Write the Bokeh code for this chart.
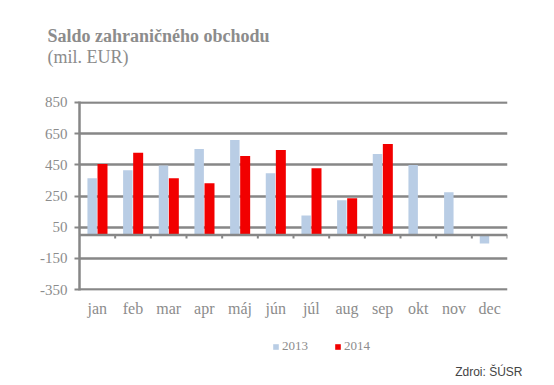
import numpy as np
from bokeh.plotting import figure
from bokeh.layouts import column
from bokeh.models import FixedTicker, Span, Label, Legend, LegendItem, Range1d, ColumnDataSource
from bokeh.embed import file_html
from bokeh.resources import INLINE

months = ["jan", "feb", "mar", "apr", "máj", "jún", "júl", "aug", "sep", "okt", "nov", "dec"]
v2013 = [364, 415, 446, 551, 609, 396, 125, 222, 519, 448, 274, -54]
v2014 = [456, 527, 364, 332, 506, 545, 428, 235, 583]
y_ticks = [-350, -150, 50, 250, 450, 650, 850]
series = ["2013", "2014"]

GRAY = "#878787"
TXT = "#8c8c8c"
C13 = "#b9cde5"
C14 = "#f20000"
SERIF = "Liberation Serif"
W = 545
H_TOP, H_MAIN, H_BOT = 75, 245, 56


def blank(h):
    f = figure(width=W, height=h, output_backend="svg", toolbar_location=None,
               x_range=Range1d(0, 1), y_range=Range1d(0, 1), x_axis_type=None, y_axis_type=None,
               min_border=0, min_border_left=0, min_border_right=0, min_border_top=0, min_border_bottom=0)
    f.outline_line_color = None
    f.grid.grid_line_color = None
    return f


# ---- title block
pt = blank(H_TOP)
pt.add_layout(Label(x=47, y=40, x_units="screen", y_units="screen", text="Saldo zahraničného obchodu",
                    text_font=SERIF, text_font_style="bold", text_font_size="18px", text_color=TXT,
                    text_baseline="alphabetic"))
pt.add_layout(Label(x=47, y=19, x_units="screen", y_units="screen", text="(mil. EUR)",
                    text_font=SERIF, text_font_size="18px", text_color=TXT, text_baseline="alphabetic"))

# ---- main chart
p = figure(width=W, height=H_MAIN, output_backend="svg", toolbar_location=None,
           x_range=Range1d(0, 12), y_range=Range1d(-356, 856),
           min_border_left=79, min_border_right=38, min_border_top=26, min_border_bottom=30)
p.outline_line_color = None

idx = np.arange(len(months)) + 0.5
s13 = ColumnDataSource(dict(x=idx - 0.145, top=v2013))
s14 = ColumnDataSource(dict(x=idx[:len(v2014)] + 0.145, top=v2014))
p.vbar(x="x", top="top", bottom=0, width=0.265, source=s13, fill_color=C13, line_color=None)
p.vbar(x="x", top="top", bottom=0, width=0.28, source=s14, fill_color=C14, line_color=None)

p.add_layout(Span(location=0, dimension="width", line_color=GRAY, line_width=2.5))
bounds = np.arange(1, len(months) + 1)
p.segment(x0=bounds, x1=bounds, y0=np.zeros(len(bounds)), y1=np.full(len(bounds), -22.0),
          line_color=GRAY, line_width=2)

p.yaxis.ticker = FixedTicker(ticks=y_ticks)
p.yaxis.major_label_overrides = {t: str(t) for t in y_ticks}
p.yaxis.minor_tick_line_color = None
p.yaxis.axis_line_color = GRAY
p.yaxis.axis_line_width = 2.5
p.yaxis.major_tick_line_color = GRAY
p.yaxis.major_tick_line_width = 2
p.yaxis.major_tick_out = 5
p.yaxis.major_tick_in = 0
p.yaxis.major_label_text_font = SERIF
p.yaxis.major_label_text_font_size = "15px"
p.yaxis.major_label_text_color = TXT
p.yaxis.major_label_standoff = 7
p.ygrid.ticker = FixedTicker(ticks=y_ticks)
p.ygrid.grid_line_color = GRAY
p.ygrid.grid_line_width = 2.5

p.xaxis.ticker = FixedTicker(ticks=list(idx))
p.xaxis.major_label_overrides = {float(x): m for x, m in zip(idx, months)}
p.xaxis.axis_line_color = None
p.xaxis.major_tick_line_color = None
p.xaxis.minor_tick_line_color = None
p.xaxis.major_label_text_font = SERIF
p.xaxis.major_label_text_font_size = "16px"
p.xaxis.major_label_text_color = TXT
p.xaxis.major_label_standoff = 3
p.xgrid.grid_line_color = None

# ---- legend + source block
pb = blank(H_BOT)
e = ColumnDataSource(dict(x=[np.nan], top=[np.nan]))
g13 = pb.vbar(x="x", top="top", width=0.1, source=e, fill_color=C13, line_color=None)
g14 = pb.vbar(x="x", top="top", width=0.1, source=e, fill_color=C14, line_color=None)
legend = Legend(items=[LegendItem(label=series[0], renderers=[g13]),
                       LegendItem(label=series[1], renderers=[g14])],
                orientation="horizontal", location=(272, 22), border_line_color=None,
                background_fill_alpha=0, label_text_font=SERIF, label_text_font_size="13px",
                label_text_color=TXT, glyph_width=7, glyph_height=7, spacing=26,
                label_standoff=3, padding=0, margin=0, label_height=14, label_text_baseline="middle")
pb.add_layout(legend, "center")
pb.add_layout(Label(x=522, y=5, x_units="screen", y_units="screen", text="Zdroj: ŠÚSR",
                    text_font="Liberation Sans", text_font_size="12px", text_color="#444444",
                    text_align="right", text_baseline="alphabetic"))

for f in (pt, p, pb):
    if "frame_align" in f.properties():
        f.frame_align = False

layout = column(pt, p, pb, spacing=0)
open("out.html", "w").write(file_html(layout, INLINE))
